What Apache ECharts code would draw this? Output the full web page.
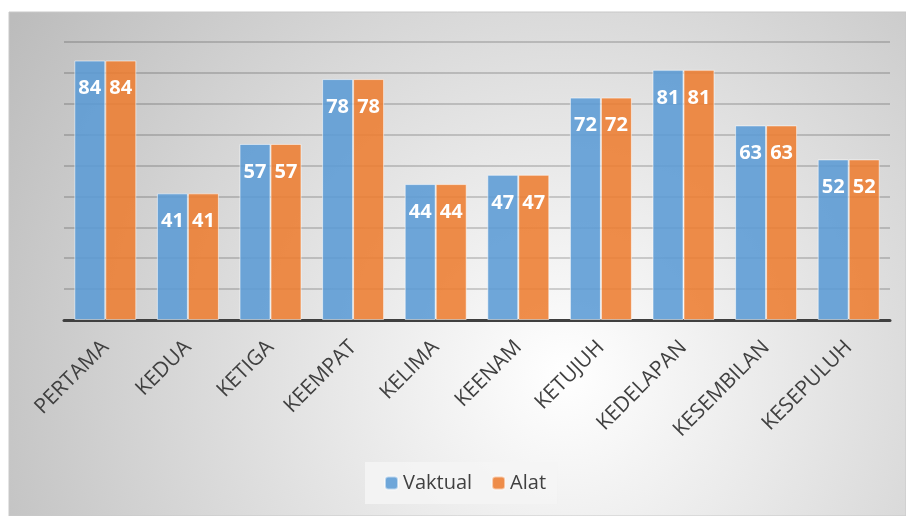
<!DOCTYPE html>
<html>
<head>
<meta charset="utf-8">
<script src="https://cdn.jsdelivr.net/npm/echarts@6/dist/echarts.min.js"></script>
<style>
  html, body { margin: 0; padding: 0; background: #fff; }
  #chart { width: 906px; height: 516px; }
</style>
</head>
<body>
<div id="chart"></div>
<script>
// categories and values
const categories = ['PERTAMA', 'KEDUA', 'KETIGA', 'KEEMPAT', 'KELIMA', 'KEENAM', 'KETUJUH', 'KEDELAPAN', 'KESEMBILAN', 'KESEPULUH']
const vaktual = [84, 41, 57, 78, 44, 47, 72, 81, 63, 52]
const alat = [84, 41, 57, 78, 44, 47, 72, 81, 63, 52]

const chart = echarts.init(document.getElementById('chart'))

const labelStyle = {
  show: true,
  position: 'insideTop',
  distance: 18,
  color: '#fff',
  fontFamily: 'Open Sans',
  fontWeight: 'bold',
  fontSize: 20
}

chart.setOption({
  animation: false,
  textStyle: { fontFamily: 'Open Sans' },
  graphic: [{
    type: 'rect',
    z: -10,
    silent: true,
    shape: { x: 9, y: 12, width: 897, height: 504 },
    style: {
      fill: {
        type: 'radial',
        x: 0.62,
        y: 0.72,
        r: 1.3,
        colorStops: [
          { offset: 0, color: '#ffffff' },
          { offset: 1, color: '#bcbcbc' }
        ]
      },
      stroke: '#c8c8c8',
      lineWidth: 1
    }
  }],
  grid: {
    left: 64,
    right: 16,
    top: 42,
    bottom: 196
  },
  legend: {
    top: 462,
    left: 365,
    itemWidth: 13,
    itemHeight: 13,
    itemGap: 19,
    padding: [11, 11, 11, 19],
    backgroundColor: 'rgba(245,245,245,0.85)',
    textStyle: { fontSize: 20, color: '#404040', fontFamily: 'Open Sans' },
    data: ['Vaktual', 'Alat']
  },
  xAxis: {
    type: 'category',
    data: categories,
    axisTick: { show: false },
    axisLine: { lineStyle: { color: '#404040', width: 3 } },
    axisLabel: {
      rotate: 45,
      interval: 0,
      margin: 24,
      fontSize: 21,
      color: '#404040'
    }
  },
  yAxis: {
    type: 'value',
    min: 0,
    max: 90,
    interval: 10,
    axisLabel: { show: false },
    axisLine: { show: false },
    axisTick: { show: false },
    splitLine: { lineStyle: { color: 'rgba(0,0,0,0.22)', width: 1.5 } }
  },
  series: [{
    name: 'Vaktual',
    type: 'bar',
    barWidth: 31,
    barGap: '0%',
    itemStyle: {
      color: 'rgba(91,155,213,0.88)',
      borderColor: 'rgba(255,255,255,0.55)',
      borderWidth: 1
    },
    label: labelStyle,
    data: vaktual
  }, {
    name: 'Alat',
    type: 'bar',
    barWidth: 31,
    itemStyle: {
      color: 'rgba(237,125,49,0.88)',
      borderColor: 'rgba(255,255,255,0.55)',
      borderWidth: 1
    },
    label: labelStyle,
    data: alat
  }]
})
</script>
</body>
</html>
